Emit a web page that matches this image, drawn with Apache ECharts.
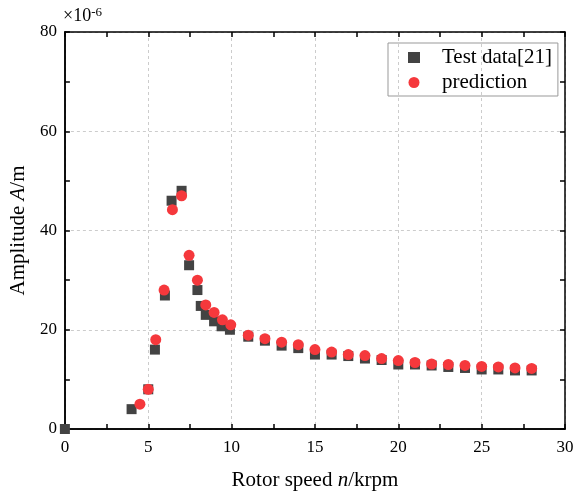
<!DOCTYPE html>
<html>
<head>
<meta charset="utf-8">
<script src="https://cdn.jsdelivr.net/npm/echarts@6/dist/echarts.min.js"></script>
<style>
  html, body { margin: 0; padding: 0; background: #fff; }
  #chart { width: 585px; height: 496px; }
</style>
</head>
<body>
<div id="chart"></div>
<script>
// speeds (krpm) and amplitudes (x1e-6 m)
var testSpeed = [0, 4, 5, 5.4, 6, 6.4, 7, 7.45, 7.95, 8.15, 8.45, 8.95, 9.4, 9.9, 11, 12, 13, 14, 15, 16, 17, 18, 19, 20, 21, 22, 23, 24, 25, 26, 27, 28];
var testAmp = [0, 4, 8, 16, 26.9, 46, 48, 33, 28, 24.8, 23, 21.7, 20.7, 20, 18.6, 17.8, 16.8, 16.3, 15, 15, 14.7, 14.2, 13.9, 13, 13, 12.8, 12.5, 12.3, 12, 12, 11.8, 11.8];
var predSpeed = [4.5, 5, 5.45, 5.95, 6.45, 7, 7.45, 7.95, 8.45, 8.95, 9.45, 9.95, 11, 12, 13, 14, 15, 16, 17, 18, 19, 20, 21, 22, 23, 24, 25, 26, 27, 28];
var predAmp = [5, 8, 18, 28, 44.2, 47, 35, 30, 25, 23.5, 22, 21, 18.9, 18.2, 17.5, 17, 16, 15.5, 15, 14.8, 14.2, 13.8, 13.4, 13.1, 13, 12.8, 12.6, 12.5, 12.3, 12.2];

function pairs(xs, ys) {
  return xs.map(function (x, i) { return [x, ys[i]]; });
}

var serif = '"Liberation Serif", "Times New Roman", serif';
var gridLine = { show: true, lineStyle: { color: '#cccccc', type: [3, 3], width: 1 } };
var frameLine = { show: true, onZero: false, lineStyle: { color: '#000', width: 1.5 } };

// frame axis: no labels, ticks every half step, pointing inward
function frameAxis(pos, max, step) {
  return {
    type: 'value', min: 0, max: max, interval: step,
    position: pos,
    axisLine: frameLine,
    axisTick: { show: true, inside: true, length: 5, lineStyle: { color: '#000', width: 1.5 } },
    splitLine: { show: false },
    axisLabel: { show: false }
  };
}

var option = {
  animation: false,
  grid: { left: 63, right: 20, top: 32, bottom: 59 },
  legend: {
    left: 388, top: 43,
    orient: 'vertical',
    itemGap: 4,
    itemWidth: 12, itemHeight: 11,
    padding: [4, 6, 3, 20],
    borderColor: '#999', borderWidth: 1,
    textStyle: { fontFamily: serif, fontSize: 21, color: '#000', padding: [0, 0, 0, 17] },
    data: [
      { name: 'Test data[21]', icon: 'rect' },
      { name: 'prediction', icon: 'circle' }
    ]
  },
  graphic: [{
    type: 'text', left: 63, top: 6,
    style: {
      text: '{a|×10}{b|-6}',
      rich: {
        a: { fontFamily: serif, fontSize: 18, color: '#000' },
        b: { fontFamily: serif, fontSize: 13, color: '#000', verticalAlign: 'top', padding: [0, 0, 8, 0] }
      }
    }
  }],
  xAxis: [{
    type: 'value', min: 0, max: 30, interval: 5,
    position: 'bottom',
    axisLine: frameLine,
    axisTick: { show: false },
    splitLine: gridLine,
    axisLabel: { fontFamily: serif, fontSize: 17, color: '#000', margin: 10 },
    name: '{t|Rotor speed }{i|n}{t|/krpm}',
    nameLocation: 'middle', nameGap: 41,
    nameTextStyle: {
      rich: {
        t: { fontFamily: serif, fontSize: 21, color: '#000' },
        i: { fontFamily: serif, fontSize: 21, color: '#000', fontStyle: 'italic' }
      }
    }
  },
    frameAxis('bottom', 30, 2.5),
    frameAxis('top', 30, 2.5)
  ],
  yAxis: [{
    type: 'value', min: 0, max: 80, interval: 20,
    position: 'left',
    axisLine: frameLine,
    axisTick: { show: false },
    splitLine: gridLine,
    axisLabel: { fontFamily: serif, fontSize: 17, color: '#000', margin: 8 },
    name: '{t|Amplitude }{i|A}{t|/m}',
    nameLocation: 'middle', nameGap: 29,
    nameTextStyle: {
      rich: {
        t: { fontFamily: serif, fontSize: 21, color: '#000' },
        i: { fontFamily: serif, fontSize: 21, color: '#000', fontStyle: 'italic' }
      }
    }
  },
    frameAxis('left', 80, 10),
    frameAxis('right', 80, 10)
  ],
  series: [{
    name: 'Test data[21]',
    type: 'scatter',
    symbol: 'rect',
    symbolSize: 10,
    itemStyle: { color: '#434343', opacity: 1 },
    data: pairs(testSpeed, testAmp)
  }, {
    name: 'prediction',
    type: 'scatter',
    symbol: 'circle',
    symbolSize: 11,
    itemStyle: { color: '#f5383c', opacity: 1 },
    data: pairs(predSpeed, predAmp)
  }]
};

var chart = echarts.init(document.getElementById('chart'));
chart.setOption(option);
</script>
</body>
</html>
